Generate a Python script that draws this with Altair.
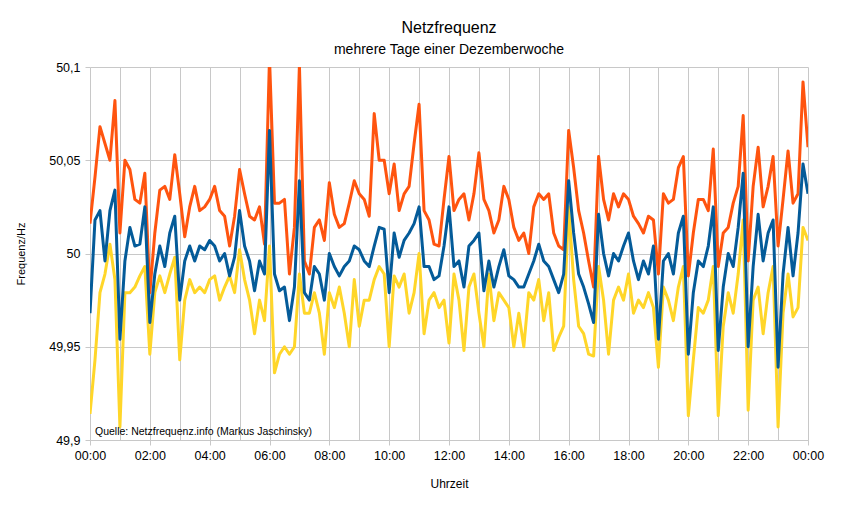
import altair as alt
import pandas as pd

# time of day in minutes (10-minute steps, 00:00 .. 24:00)
minutes = list(range(0, 1441, 10))

max_hz = [
    50.016, 50.041, 50.068, 50.059, 50.050, 50.082, 50.011, 50.050, 50.045, 50.029, 50.027, 50.043,
    49.979, 50.011, 50.034, 50.036, 50.029, 50.053, 50.032, 50.009, 50.025, 50.036, 50.023, 50.025,
    50.029, 50.036, 50.023, 50.020, 50.004, 50.020, 50.045, 50.032, 50.020, 50.018, 50.025, 50.005,
    50.105, 50.027, 50.027, 50.029, 49.989, 50.014, 50.101, 49.996, 49.989, 50.014, 50.018, 50.007,
    50.038, 50.021, 50.014, 50.016, 50.027, 50.039, 50.032, 50.029, 50.020, 50.075, 50.050, 50.050,
    50.032, 50.048, 50.023, 50.032, 50.036, 50.059, 50.080, 50.023, 50.018, 50.005, 50.004, 50.029,
    50.052, 50.023, 50.029, 50.032, 50.018, 50.032, 50.054, 50.029, 50.023, 50.011, 50.018, 50.036,
    50.029, 50.014, 50.007, 50.011, 50.000, 50.025, 50.032, 50.029, 50.032, 50.011, 50.004, 50.002,
    50.066, 50.046, 50.023, 50.011, 49.996, 49.982, 50.052, 50.029, 50.018, 50.032, 50.025, 50.032,
    50.029, 50.020, 50.016, 50.011, 50.020, 50.018, 49.989, 50.032, 50.027, 50.029, 50.046, 50.052,
    49.988, 50.011, 50.029, 50.029, 50.023, 50.056, 49.993, 50.011, 50.014, 50.027, 50.036, 50.074,
    49.996, 50.036, 50.057, 50.025, 50.036, 50.052, 50.004, 50.029, 50.055, 50.027, 50.032, 50.092,
    50.057,
]

mean_hz = [
    49.968, 50.018, 50.023, 49.996, 50.023, 50.034, 49.954, 49.996, 50.014, 50.004, 50.005, 50.025,
    49.963, 49.989, 50.004, 49.993, 50.011, 50.020, 49.975, 49.996, 50.004, 49.996, 50.004, 50.002,
    50.007, 50.004, 49.996, 50.000, 49.988, 49.998, 50.023, 50.004, 49.996, 49.980, 49.996, 49.989,
    50.066, 49.989, 49.980, 49.982, 49.964, 49.982, 50.039, 49.979, 49.975, 49.993, 49.989, 49.975,
    50.000, 49.993, 49.988, 49.993, 49.996, 50.004, 50.002, 49.996, 49.993, 50.004, 50.014, 50.013,
    49.979, 50.011, 49.998, 50.007, 50.011, 50.016, 50.025, 49.993, 49.993, 49.986, 49.988, 50.004,
    50.025, 49.993, 49.996, 49.982, 50.004, 50.007, 50.011, 49.980, 49.996, 49.982, 49.993, 50.002,
    49.988, 49.986, 49.982, 49.982, 49.989, 49.996, 50.005, 49.996, 49.993, 49.986, 49.979, 49.989,
    50.039, 50.011, 49.989, 49.982, 49.973, 49.963, 50.021, 50.000, 49.988, 50.000, 49.996, 50.004,
    50.011, 49.996, 49.986, 49.996, 49.989, 50.004, 49.954, 49.996, 50.000, 49.989, 50.011, 50.020,
    49.946, 49.979, 49.996, 49.993, 50.004, 50.025, 49.948, 49.982, 50.000, 49.993, 50.014, 50.043,
    49.950, 49.993, 50.021, 49.996, 50.011, 50.018, 49.939, 49.989, 50.014, 49.988, 50.011, 50.048,
    50.032,
]

min_hz = [
    49.914, 49.943, 49.979, 49.989, 50.005, 49.986, 49.907, 49.979, 49.979, 49.982, 49.988, 49.993,
    49.946, 49.979, 49.988, 49.979, 49.989, 49.998, 49.943, 49.975, 49.986, 49.979, 49.982, 49.979,
    49.986, 49.988, 49.975, 49.982, 49.988, 49.979, 50.002, 49.986, 49.975, 49.957, 49.975, 49.964,
    50.004, 49.936, 49.946, 49.950, 49.946, 49.950, 49.989, 49.968, 49.968, 49.979, 49.968, 49.946,
    49.979, 49.971, 49.982, 49.968, 49.950, 49.986, 49.961, 49.975, 49.975, 49.986, 49.993, 49.989,
    49.950, 49.988, 49.982, 49.989, 49.968, 49.979, 50.000, 49.957, 49.975, 49.979, 49.971, 49.975,
    49.952, 49.989, 49.975, 49.948, 49.982, 49.989, 49.968, 49.950, 49.989, 49.964, 49.979, 49.975,
    49.971, 49.950, 49.968, 49.950, 49.979, 49.975, 49.986, 49.964, 49.979, 49.948, 49.955, 49.961,
    50.025, 49.986, 49.961, 49.957, 49.946, 49.945, 49.993, 49.975, 49.946, 49.975, 49.982, 49.975,
    49.989, 49.968, 49.975, 49.971, 49.979, 49.971, 49.939, 49.982, 49.975, 49.964, 49.982, 49.993,
    49.913, 49.943, 49.971, 49.968, 49.975, 49.993, 49.913, 49.961, 49.979, 49.968, 49.989, 50.018,
    49.916, 49.975, 49.982, 49.957, 49.979, 49.993, 49.907, 49.968, 49.989, 49.966, 49.971, 50.014,
    50.007,
]

y_ticks = [49.9, 49.95, 50.0, 50.05, 50.1]
source_text = ["Quelle:  Netzfrequenz.info  (Markus  Jaschinsky)"]

series = [
    ("Maximum", max_hz, "#ff540f"),
    ("Minimum", min_hz, "#ffd629"),
    ("Mittelwert", mean_hz, "#045b99"),
]

FONT = "Liberation Sans"

x_enc = alt.X(
    "Minute:Q",
    scale=alt.Scale(domain=[0, 1440], nice=False),
    axis=alt.Axis(
        values=list(range(0, 1441, 60)),
        labelExpr="datum.value % 120 === 0 ? ((floor(datum.value / 60) % 24 < 10 ? '0' : '') + (floor(datum.value / 60) % 24) + ':00') : ''",
        tickOpacity={"condition": {"test": "datum.value % 120 === 0", "value": 1}, "value": 0},
        title="Uhrzeit",
        grid=True,
        tickSize=5,
        labelPadding=4,
        titlePadding=17,
        labelFlush=False,
        labelOverlap=False,
    ),
)

y_enc = alt.Y(
    "Frequenz:Q",
    scale=alt.Scale(domain=[49.9, 50.1], nice=False, zero=False),
    axis=alt.Axis(
        values=y_ticks,
        labelExpr="replace(format(datum.value, '~g'), '.', ',')",
        title="Frequenz/Hz",
        grid=True,
        domain=False,
        tickSize=5,
        labelPadding=5,
        titlePadding=22,
        titleFontSize=11,
    ),
)

layers = []
for name, vals, col in series:
    df = pd.DataFrame({"Minute": minutes, "Frequenz": vals})
    layers.append(
        alt.Chart(df)
        .mark_line(color=col, strokeWidth=3, clip=True, strokeJoin="round")
        .encode(x=x_enc, y=y_enc)
    )

text_layer = (
    alt.Chart(pd.DataFrame({"t": source_text}))
    .mark_text(align="left", baseline="middle", fontSize=10.5, font=FONT, color="#000000")
    .encode(text="t:N", x=alt.value(5), y=alt.value(365))
)

chart = (
    alt.layer(*layers, text_layer)
    .properties(
        width=718,
        height=373,
        autosize=alt.AutoSizeParams(type="none"),
        padding={"left": 82, "top": 59, "right": 20, "bottom": 56},
        title=alt.TitleParams(
            "Netzfrequenz",
            subtitle="mehrere Tage einer Dezemberwoche",
            font=FONT,
            fontSize=16,
            fontWeight="normal",
            color="#000000",
            subtitleFont=FONT,
            subtitleFontSize=14,
            subtitleColor="#000000",
            subtitlePadding=7,
            offset=4,
            anchor="middle",
        ),
    )
    .configure_view(strokeWidth=0)
    .configure_axis(
        gridColor="#c8c8c8",
        gridWidth=1,
        domainColor="#c8c8c8",
        tickColor="#c8c8c8",
        labelColor="#000000",
        labelFont=FONT,
        labelFontSize=12.5,
        titleFont=FONT,
        titleFontSize=12,
        titleFontWeight="normal",
        titleColor="#000000",
    )
)

chart.save("out.html", embed_options={"renderer": "svg", "actions": False})
